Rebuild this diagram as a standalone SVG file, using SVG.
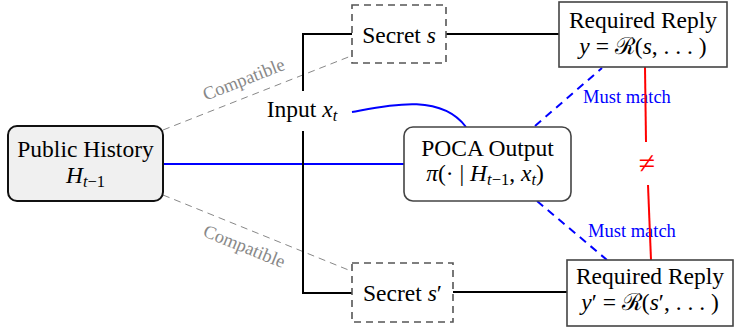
<svg xmlns="http://www.w3.org/2000/svg" width="735" height="328" viewBox="0 0 735 328" font-family="'Liberation Serif', 'Times New Roman', 'DejaVu Serif', serif">
<style>
text{font-family:'Liberation Serif','Times New Roman','DejaVu Serif',serif}
.t{font-size:23.5px;fill:#000;text-anchor:middle}
.i{font-style:italic}
.sub{font-size:16.5px}
.box{fill:#fff;stroke:#444;stroke-width:1.6}
.sbox{fill:#fff;stroke:#555;stroke-width:1.6;stroke-dasharray:7 5}
.blk{fill:none;stroke:#000;stroke-width:2}
.blue{fill:none;stroke:#00f;stroke-width:2}
.bdash{fill:none;stroke:#00f;stroke-width:2;stroke-dasharray:8 6}
.gdash{fill:none;stroke:#888;stroke-width:1;stroke-dasharray:7 5}
.red{fill:none;stroke:#f00;stroke-width:2}
.lbl{font-size:18.5px}
</style>
<g id="connectors">
  <path class="gdash" d="M163,130 L351,56"/>
  <path class="gdash" d="M163,195 L351,271"/>
  <text class="lbl" fill="#888" text-anchor="middle" transform="translate(246,85) rotate(-21.5)">Compatible</text>
  <text class="lbl" fill="#888" text-anchor="middle" transform="translate(242,252) rotate(22)">Compatible</text>
  <path class="blue" d="M163,164 L404,164"/>
  <path class="blue" d="M352,112 C385,106 440,92 466,127"/>
  <path class="blk" d="M303,91 L303,34 L352,34"/>
  <path class="blk" d="M303,131 L303,293 L352,293"/>
  <path class="blk" d="M446,34 L559,34"/>
  <path class="blk" d="M453,292 L567,292"/>
  <path class="bdash" d="M535,126 L602,68"/>
  <path class="bdash" d="M537,201 L607,260"/>
  <text class="lbl" fill="#00f" x="583" y="103">Must match</text>
  <text class="lbl" fill="#00f" x="588" y="237">Must match</text>
  <path class="red" d="M645,67 L646,142"/>
  <path class="red" d="M648,185 L651,260"/>
  <text class="t" style="fill:#f00;font-size:30px" x="647" y="173">≠</text>
</g>
<g id="input">
  <text class="t" x="302" y="117">Input <tspan class="i">x</tspan><tspan class="sub i" dy="4">t</tspan></text>
</g>
<g id="public-history">
  <rect x="8" y="126" width="155" height="75" rx="9" fill="#f0f0f0" stroke="#111" stroke-width="2"/>
  <text class="t" x="85.5" y="157">Public History</text>
  <text class="t" x="85.5" y="183"><tspan class="i">H</tspan><tspan class="sub i" dy="4">t</tspan><tspan class="sub">−1</tspan></text>
</g>
<g id="secret-s">
  <rect class="sbox" x="352" y="5" width="94" height="58"/>
  <text class="t" x="399" y="43">Secret <tspan class="i">s</tspan></text>
</g>
<g id="secret-s-prime">
  <rect class="sbox" x="352" y="263" width="101" height="59"/>
  <text class="t" x="402.5" y="301">Secret <tspan class="i">s</tspan>′</text>
</g>
<g id="poca-output">
  <rect class="box" x="404" y="127" width="167" height="74" rx="9"/>
  <text class="t" x="487.5" y="156">POCA Output</text>
  <text class="t" x="485" y="181"><tspan class="i">π</tspan>(· | <tspan class="i">H</tspan><tspan class="sub i" dy="4">t</tspan><tspan class="sub">−1</tspan><tspan dy="-4">, </tspan><tspan class="i">x</tspan><tspan class="sub i" dy="4">t</tspan><tspan dy="-4">)</tspan></text>
</g>
<g id="reply-top">
  <rect class="box" x="559" y="2" width="168" height="65"/>
  <text class="t" x="643" y="28">Required Reply</text>
  <text class="t" x="643" y="54"><tspan class="i">y</tspan> = ℛ(<tspan class="i">s</tspan>, . . . )</text>
</g>
<g id="reply-bottom">
  <rect class="box" x="567" y="260" width="166" height="66"/>
  <text class="t" x="650" y="284">Required Reply</text>
  <text class="t" x="650" y="310"><tspan class="i">y</tspan>′ = ℛ(<tspan class="i">s</tspan>′, . . . )</text>
</g>
</svg>
